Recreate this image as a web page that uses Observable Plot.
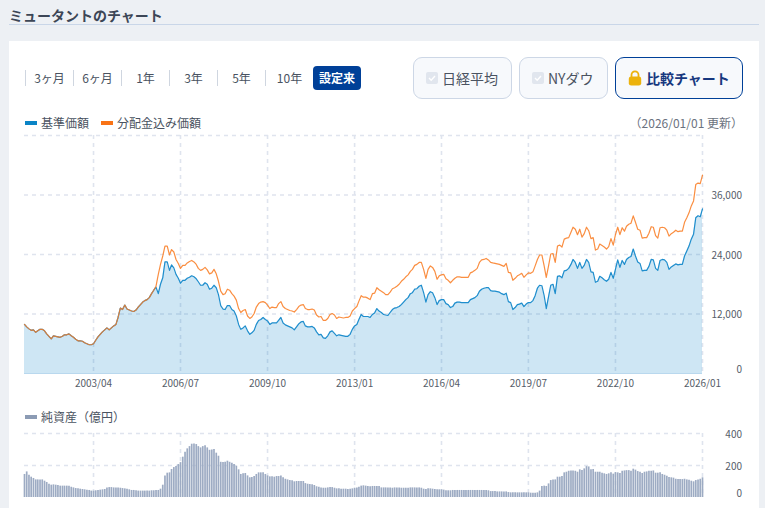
<!DOCTYPE html>
<html lang="ja">
<head>
<meta charset="utf-8">
<script src="https://cdn.jsdelivr.net/npm/d3@7"></script>
<script src="https://cdn.jsdelivr.net/npm/@observablehq/plot@0.6"></script>
<style>
html,body{margin:0;padding:0;width:765px;height:508px;overflow:hidden;background:#edf0f4;font-family:"Noto Sans CJK JP","Noto Sans",sans-serif;color:#4a5361}
#page{position:relative;width:765px;height:508px;overflow:hidden}
.abs{position:absolute;white-space:nowrap}
.title{left:9px;top:5px;font-size:14px;font-weight:700;line-height:20px;color:#3c4656;letter-spacing:0}
.rule{left:9px;top:24px;width:750px;height:1px;background:#c9d6e8}
.panel{left:9px;top:41px;width:750px;height:467px;background:#fff}
.tab{top:70px;width:47px;height:16px;line-height:16px;font-size:12px;text-align:center;border-left:1px solid #cfd6e0;color:#4a5361}
.active{left:313px;top:66px;width:48px;height:24px;line-height:24px;border-radius:4px;background:#004098;color:#fff;font-size:12px;font-weight:700;text-align:center}
.btn{top:57px;height:40px;border:1px solid #cdd7e6;border-radius:9px;background:#f7f9fc;font-size:14px;line-height:40px;color:#4a5361;box-sizing:content-box}
.box{position:absolute;top:14px;width:12px;height:12px;border-radius:2px;background:#e1e6ee}
.box svg{display:block}
.cmp{left:615px;top:57px;width:126px;height:40px;border:1.5px solid #004098;border-radius:9px;background:#f7f9fc;font-size:14px;font-weight:700;line-height:40px;color:#17387f}
.sw{height:4px;width:12px}
.leg{font-size:12px;line-height:16px;color:#4a5361}
.plot{position:absolute;left:0}
.plot svg{display:block;background:transparent}
</style>
</head>
<body>
<div id="page">
  <div class="abs title">ミュータントのチャート</div>
  <div class="abs rule"></div>
  <div class="abs panel"></div>

  <div class="abs tab" style="left:25px">3ヶ月</div>
  <div class="abs tab" style="left:73px">6ヶ月</div>
  <div class="abs tab" style="left:121px">1年</div>
  <div class="abs tab" style="left:169px">3年</div>
  <div class="abs tab" style="left:217px">5年</div>
  <div class="abs tab" style="left:265px">10年</div>
  <div class="abs active">設定来</div>

  <div class="abs btn" style="left:413px;width:97px"><span class="box" style="left:12px"><svg width="12" height="12" viewBox="0 0 12 12"><path d="M3 6l2.2 2.2L9 4" fill="none" stroke="#fff" stroke-width="1.4"/></svg></span><span style="position:absolute;left:28px">日経平均</span></div>
  <div class="abs btn" style="left:519px;width:87px"><span class="box" style="left:12px"><svg width="12" height="12" viewBox="0 0 12 12"><path d="M3 6l2.2 2.2L9 4" fill="none" stroke="#fff" stroke-width="1.4"/></svg></span><span style="position:absolute;left:28px">NYダウ</span></div>
  <div class="abs cmp"><svg style="position:absolute;left:12px;top:12px" width="14" height="16" viewBox="0 0 14 16"><path d="M3.5 7V4.8a3.5 3.5 0 0 1 7 0V7" fill="none" stroke="#ecb20c" stroke-width="1.8"/><rect x="0.8" y="6.4" width="12.4" height="9.2" rx="2.4" fill="#ecb20c"/></svg><span style="position:absolute;left:30px">比較チャート</span></div>

  <div class="abs sw" style="left:25px;top:121px;background:#0a84c6"></div>
  <div class="abs leg" style="left:41px;top:115px">基準価額</div>
  <div class="abs sw" style="left:101px;top:121px;background:#f97316"></div>
  <div class="abs leg" style="left:117px;top:115px">分配金込み価額</div>
  <div class="abs leg" style="right:22px;top:115px;color:#6b7280">（2026/01/01 更新）</div>

  <div class="abs sw" style="left:25px;top:415px;background:#8c9bb4"></div>
  <div class="abs leg" style="left:41px;top:409px">純資産（億円）</div>

  <div class="plot" id="main" style="top:130px"></div>
  <div class="plot" id="sub" style="top:418px"></div>
</div>
<script>
// 基準価額 (yen, monthly from 2000/09, unit: 100 yen)
const navHundreds = [
99,94,90,87,88,83,86,89,89,86,
80,75,70,76,75,74,73,75,78,78,
80,76,73,69,66,66,65,62,60,58,
58,60,67,74,79,84,88,92,88,92,
96,99,113,132,129,138,130,128,126,125,
128,134,139,144,147,149,153,161,168,174,
161,180,193,225,225,208,219,213,200,192,
182,188,188,192,194,197,195,191,185,178,
178,183,180,170,172,178,173,159,137,130,
129,137,137,129,126,116,99,89,92,96,
86,79,82,87,99,107,109,113,109,106,
99,102,102,102,107,113,102,98,96,94,
92,88,94,100,104,105,96,94,94,95,
92,84,78,79,72,71,76,84,86,81,
76,78,77,76,75,75,79,89,96,99,
109,119,115,115,115,113,119,122,131,126,
123,119,118,117,123,129,132,133,135,139,
144,149,153,161,163,170,171,176,178,163,
144,159,165,163,153,139,147,149,149,141,
139,133,135,142,144,144,143,143,143,143,
149,151,153,157,166,170,172,173,173,167,
166,166,165,164,161,159,162,145,143,129,
133,139,140,142,135,140,143,143,147,157,
172,178,177,157,131,155,178,180,161,196,
197,193,207,208,212,220,230,224,212,224,
212,218,230,224,205,204,184,186,196,193,
189,186,190,204,192,210,229,214,228,220,
230,234,236,251,237,225,222,207,208,208,
216,230,229,212,208,228,230,229,224,210,
215,218,221,219,220,220,237,247,257,271,
281,314,318,316,332];

// 分配金込み価額 (same unit)
const totalHundreds = [
99,94,90,87,88,83,86,89,89,86,
80,75,70,76,75,74,73,75,78,78,
80,76,73,69,66,66,65,62,60,58,
58,60,67,74,79,84,88,92,88,92,
96,99,113,132,129,138,130,128,126,125,
128,134,139,144,147,149,153,161,168,176,
200,220,237,257,257,239,250,245,230,222,
212,218,218,223,226,228,225,220,212,208,
210,214,209,201,203,210,201,186,166,159,
161,170,168,161,156,148,131,123,127,129,
116,111,114,121,134,141,144,145,143,138,
131,134,133,133,141,145,135,131,129,127,
126,124,129,135,138,139,131,129,129,130,
128,118,114,115,107,107,111,119,121,118,
111,114,113,112,113,113,116,126,131,135,
146,157,154,154,152,149,161,162,173,169,
166,163,159,159,164,171,173,176,180,186,
190,195,199,206,210,218,220,224,224,210,
192,210,217,214,206,190,197,199,200,191,
188,183,188,192,195,195,194,194,194,194,
203,205,208,212,224,229,230,232,229,224,
223,222,221,220,218,216,222,204,203,188,
192,197,199,202,194,199,203,202,205,217,
230,239,239,217,194,217,241,242,224,257,
259,255,271,273,274,285,295,291,280,291,
275,282,295,288,272,274,249,251,261,258,
255,251,256,272,259,280,295,280,294,287,
297,301,303,318,305,291,289,273,274,274,
283,296,295,278,273,294,295,294,289,277,
282,285,289,286,287,287,305,314,324,338,
348,381,384,383,400];

// 純資産 (億円)
const assets = [
144,160,139,127,119,110,110,110,110,102,
94,83,77,79,77,75,71,71,71,71,
71,64,60,56,54,52,50,48,46,44,
40,40,42,44,46,48,50,60,62,62,
60,60,60,58,56,54,52,48,44,44,
42,40,40,40,40,40,40,42,42,44,
44,52,77,135,152,154,175,187,193,206,
218,252,283,304,318,333,335,331,318,310,
318,324,310,295,297,300,277,258,220,218,
220,227,220,214,206,196,173,144,148,150,
135,123,125,131,144,154,154,154,144,135,
129,129,127,131,131,135,123,114,110,106,
104,98,100,100,100,100,87,83,81,79,
75,67,64,60,58,58,60,62,62,58,
54,54,52,52,52,50,52,54,58,60,
64,71,73,71,69,67,69,69,69,69,
60,60,60,60,60,58,60,60,60,58,
58,58,58,60,60,60,60,60,58,52,
50,54,54,52,50,48,48,48,46,42,
42,42,44,44,44,44,44,44,44,44,
44,44,44,44,44,44,44,44,42,37,
37,37,35,35,35,35,35,31,29,29,
29,29,29,29,29,29,29,27,27,27,
29,40,69,71,69,85,106,110,110,127,
127,131,154,158,164,166,166,164,158,173,
168,179,193,191,173,175,158,158,158,152,
148,144,148,154,146,156,154,150,164,166,
168,168,164,177,171,162,158,150,158,160,
164,164,166,152,152,154,144,139,133,125,
123,121,114,112,112,112,114,110,108,102,
98,106,110,114,123];

const tickLabels = ["2003/04","2006/07","2009/10","2013/01","2016/04","2019/07","2022/10","2026/01"];
const priceTicks = [12000, 24000, 36000];
const priceGrid = [12000, 24000, 36000, 48000];
const assetTicks = [200, 400];

const parseMonth = d3.utcParse("%Y/%m");
const start = parseMonth("2000/09");
const end = parseMonth("2026/01");
const xTicks = tickLabels.map(parseMonth);
const rows = navHundreds.map((v, i) => ({
  date: d3.utcMonth.offset(start, i),
  nav: v * 100,
  total: totalHundreds[i] * 100,
  assets: assets[i]
}));

const FONT = '"Noto Sans CJK JP","Noto Sans",sans-serif';
const common = {width: 765, marginLeft: 24, marginRight: 63};
const GRID = "#dfe4ee";
const LABEL = "#565d69";
const dash = "4,4";
const xScale = {type: "utc", domain: [start, end]};

document.getElementById("main").append(Plot.plot({
  ...common, height: 265, marginTop: 5, marginBottom: 22,
  style: {fontFamily: FONT, fontSize: "10px", color: LABEL, background: "transparent"},
  x: {...xScale, label: null},
  y: {domain: [0, 48000], label: null},
  marks: [
    Plot.ruleY(priceGrid, {stroke: GRID, strokeWidth: 1.3, strokeDasharray: dash}),
    Plot.ruleX(xTicks, {stroke: GRID, strokeWidth: 1.6, strokeDasharray: dash}),
    Plot.areaY(rows, {x: "date", y: "nav", fill: "#0a84c6", fillOpacity: 0.2}),
    Plot.ruleY([0], {stroke: "#b9d8ee", strokeWidth: 1.2}),
    Plot.lineY(rows, {x: "date", y: "nav", stroke: "#1f8ecd", strokeWidth: 1.2, curve: "linear"}),
    Plot.lineY(rows, {x: "date", y: "total", stroke: "#f97a20", strokeWidth: 1.2, strokeOpacity: 0.85, curve: "linear"}),
    Plot.axisX({ticks: xTicks, tickFormat: d3.utcFormat("%Y/%m"), tickSize: 0, tickPadding: 6, label: null, fontSize: 10}),
    Plot.axisY({ticks: priceTicks, anchor: "right", tickSize: 0, tickPadding: 39.5, textAnchor: "end", dy: 1, tickFormat: d3.format(","), label: null}),
    Plot.axisY({ticks: [0], anchor: "right", tickSize: 0, tickPadding: 39.5, textAnchor: "end", dy: -4, label: null})
  ]
}));

document.getElementById("sub").append(Plot.plot({
  ...common, height: 90, marginTop: 15, marginBottom: 11,
  style: {fontFamily: FONT, fontSize: "10px", color: LABEL, background: "transparent"},
  x: {...xScale, axis: null},
  y: {domain: [0, 400], label: null},
  marks: [
    Plot.ruleY([200, 400], {stroke: GRID, strokeWidth: 1.4, strokeDasharray: dash}),
    Plot.ruleX(xTicks, {stroke: GRID, strokeWidth: 1.6, strokeDasharray: dash}),
    Plot.ruleX(rows, {x: "date", y1: 0, y2: "assets", stroke: "#9dabc3", strokeWidth: 1.7}),
    Plot.axisY({ticks: assetTicks, anchor: "right", tickSize: 0, tickPadding: 39.5, textAnchor: "end", dy: 1, label: null}),
    Plot.axisY({ticks: [0], anchor: "right", tickSize: 0, tickPadding: 39.5, textAnchor: "end", dy: -4, label: null})
  ]
}));
</script>
</body>
</html>
